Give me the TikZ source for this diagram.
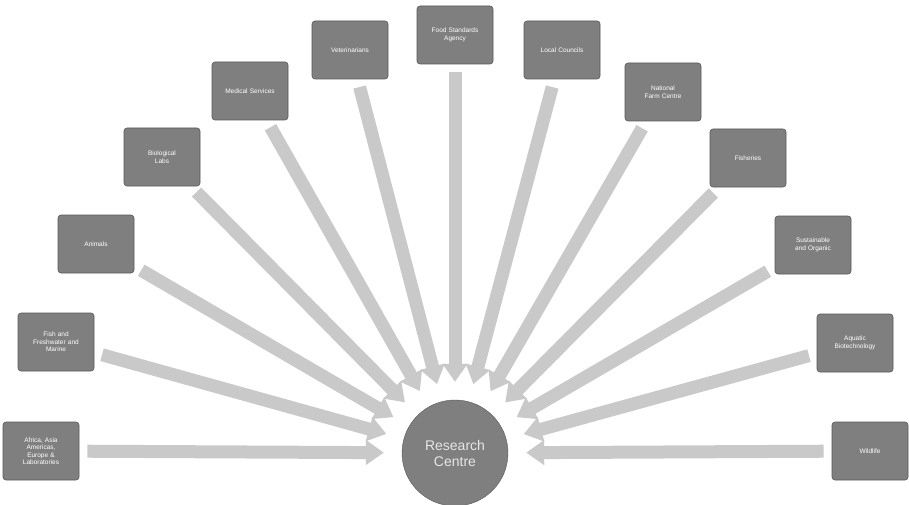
\documentclass[tikz,border=0pt]{standalone}
\usepackage{fontspec}
\setmainfont{Liberation Sans}
\usetikzlibrary{arrows.meta}
\definecolor{boxgrey}{HTML}{7F7F7F}
\definecolor{arrgrey}{HTML}{C9C9C9}
\definecolor{txtgrey}{HTML}{E6E6E6}
\begin{document}
\begin{tikzpicture}[x=1pt,y=-1pt,
  sbox/.style={draw=boxgrey!70!black,line width=0.6pt,fill=boxgrey,rounded corners=3pt,minimum width=76pt,minimum height=58pt,text width=66pt,align=center,font=\fontsize{6.5}{7.5}\selectfont,text=white,inner sep=2pt},
  hub/.style={circle,fill=boxgrey,draw=boxgrey!70!black,minimum size=106pt,align=center,font=\fontsize{14}{16}\selectfont,text=txtgrey},
  arr/.style={draw=arrgrey,line width=13pt,-{Triangle[length=18pt,width=24pt]},shorten <=8pt,shorten >=18pt}]
\useasboundingbox (0,0) rectangle (909,505);
\node[hub] (c) at (455,453) {Research\\Centre};
\node[sbox] (b1) at (41,451) {Africa, Asia\\Americas,\\Europe \&\\Laboratories};
\node[sbox] (b2) at (56,342) {Fish and\\Freshwater and\\Marine};
\node[sbox] (b3) at (96,244) {Animals};
\node[sbox] (b4) at (162,157) {Biological\\Labs};
\node[sbox] (b5) at (250,91) {Medical Services};
\node[sbox] (b6) at (350,50) {Veterinarians};
\node[sbox] (b7) at (455,35) {Food Standards\\Agency};
\node[sbox] (b8) at (562,50) {Local Councils};
\node[sbox] (b9) at (663,92) {National\\Farm Centre};
\node[sbox] (b10) at (748,158) {Fisheries};
\node[sbox] (b11) at (813,245) {Sustainable\\and Organic};
\node[sbox] (b12) at (855,343) {Aquatic\\Biotechnology};
\node[sbox] (b13) at (870,451) {Wildlife};
\foreach \i in {1,...,13} {\draw[arr] (b\i) -- (c);}
\end{tikzpicture}
\end{document}
